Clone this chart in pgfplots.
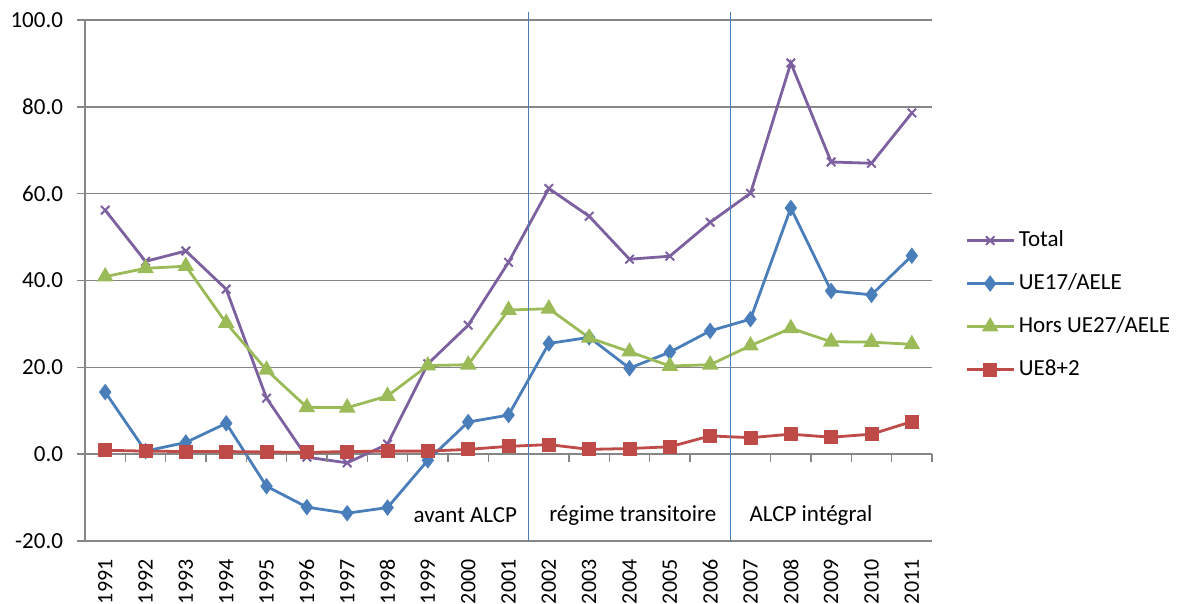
\documentclass[border=0pt]{standalone}
\usepackage{fontspec}
\setmainfont{Carlito}
\usepackage{pgfplots}
\pgfplotsset{compat=1.18}
\definecolor{cTotal}{HTML}{7D60A0}
\definecolor{cUE}{HTML}{4A7EBB}
\definecolor{cHors}{HTML}{9BBB59}
\definecolor{cEst}{HTML}{BE4B48}
\definecolor{gridgray}{HTML}{868686}

\begin{document}
\fontsize{11.5}{13.5}\selectfont
\begin{tikzpicture}
\begin{axis}[
    scale only axis,
    width=423.5pt, height=260.5pt,
    xmin=-0.5, xmax=20.5,
    ymin=-20, ymax=100,
    clip=false,
    axis y line=left, axis x line=bottom,
    axis line style={-, draw=gridgray, line width=0.8pt},
    x axis line style={draw=none},
    ytick={-20,0,20,40,60,80,100},
    yticklabels={-20.0,0.0,20.0,40.0,60.0,80.0,100.0},
    ymajorgrids,
    grid style={gridgray, line width=0.8pt},
    ytick style={gridgray, line width=0.8pt},
    major tick length=4pt, tick align=outside,
    yticklabel shift=3pt,
    xtick={0,...,20},
    xticklabels={1991,1992,1993,1994,1995,1996,1997,1998,1999,2000,2001,2002,2003,2004,2005,2006,2007,2008,2009,2010,2011},
    xtick style={draw=none},
    x tick label style={rotate=90, anchor=east, font=\fontsize{11}{13}\selectfont},
    xticklabel shift=1.2pt,
    legend cell align=left,
    legend style={draw=none, fill=none, at={(rel axis cs:1.039,0.453)}, anchor=west,
        row sep=7.8pt, inner sep=0pt,
        /tikz/every even column/.append style={column sep=2pt}},
    legend image code/.code={\draw[mark repeat=2, mark phase=2, #1]
        plot coordinates {(0cm,0cm) (0.41cm,0cm) (0.82cm,0cm)};},
    every axis plot/.append style={line width=1.4pt},
]
\coordinate (bbSW) at (rel axis cs:-0.1004,-0.1209);
\coordinate (bbNE) at (rel axis cs:1.294,1.0384);

% Total
\addplot[cTotal, mark=x, mark size=3pt, mark options={line width=1pt}] coordinates {
    (0,56.2) (1,44.4) (2,46.8) (3,38.0) (4,12.9) (5,-0.7) (6,-2.0)
    (7,2.3) (8,20.8) (9,29.7) (10,44.2) (11,61.2) (12,54.8) (13,44.9)
    (14,45.6) (15,53.4) (16,60.1) (17,90.1) (18,67.3) (19,67.0) (20,78.6)
};
\addlegendentry{Total}
% UE17/AELE
\addplot[cUE, mark=diamond*, mark size=3pt] coordinates {
    (0,14.3) (1,0.7) (2,2.7) (3,7.1) (4,-7.4) (5,-12.2) (6,-13.6)
    (7,-12.3) (8,-1.4) (9,7.4) (10,9.0) (11,25.5) (12,26.9) (13,19.8)
    (14,23.5) (15,28.4) (16,31.1) (17,56.7) (18,37.6) (19,36.7) (20,45.7)
};
\addlegendentry{UE17/AELE}
% Hors UE27/AELE
\addplot[cHors, mark=triangle*, mark size=3.4pt] coordinates {
    (0,40.9) (1,42.8) (2,43.3) (3,30.2) (4,19.4) (5,10.8) (6,10.7)
    (7,13.4) (8,20.4) (9,20.6) (10,33.2) (11,33.5) (12,26.8) (13,23.6)
    (14,20.3) (15,20.6) (16,25.0) (17,29.0) (18,25.9) (19,25.8) (20,25.3)
};
\addlegendentry{Hors UE27/AELE}
% UE8+2
\addplot[cEst, mark=square*, mark size=2.8pt] coordinates {
    (0,0.9) (1,0.7) (2,0.6) (3,0.6) (4,0.5) (5,0.4) (6,0.6)
    (7,0.7) (8,0.7) (9,1.1) (10,1.8) (11,2.2) (12,1.1) (13,1.3)
    (14,1.7) (15,4.2) (16,3.8) (17,4.6) (18,3.9) (19,4.6) (20,7.5)
};
\addlegendentry{UE8+2}

% tick marks on the zero line, between years
\pgfplotsinvokeforeach{0.5,1.5,2.5,3.5,4.5,5.5,6.5,7.5,8.5,9.5,10.5,11.5,12.5,13.5,14.5,15.5,16.5,17.5,18.5,19.5,20.5}{
    \draw[gridgray, line width=0.8pt] (axis cs:#1,0) -- ([yshift=-4pt]axis cs:#1,0);
}
\draw[cUE, line width=0.6pt] (axis cs:10.5,-20) -- (axis cs:10.5,101.8);
\draw[cUE, line width=0.6pt] (axis cs:15.5,-20) -- (axis cs:15.5,101.8);
\node at (axis cs:8.93,-14.05) {avant ALCP};
\node at (axis cs:13.08,-14.05) {régime transitoire};
\node at (axis cs:17.5,-14.05) {ALCP intégral};
\end{axis}
\pgfresetboundingbox
\path[use as bounding box] (bbSW) rectangle (bbNE);
\end{tikzpicture}
\end{document}
